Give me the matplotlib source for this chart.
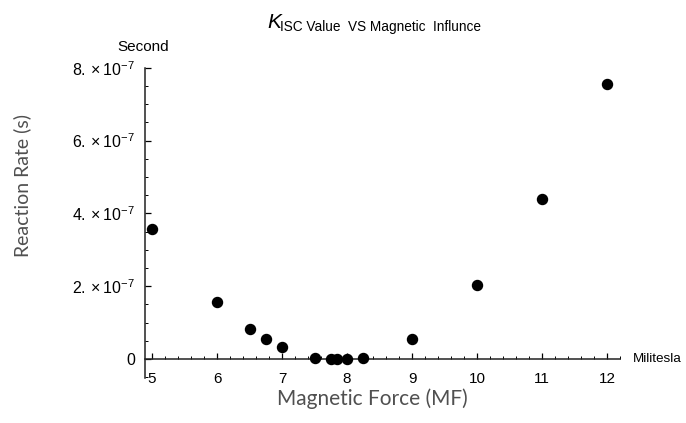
import matplotlib
matplotlib.use("Agg")
import matplotlib.pyplot as plt
from matplotlib.ticker import MultipleLocator, FuncFormatter

plt.rcParams['font.family'] = ['Liberation Sans', 'DejaVu Sans']
plt.rcParams['mathtext.fontset'] = 'custom'
plt.rcParams['mathtext.rm'] = 'Liberation Sans'
plt.rcParams['mathtext.it'] = 'Liberation Sans:italic'

# Data
field_mT = [5, 6, 6.5, 6.75, 7, 7.5, 7.75, 7.85, 8, 8.25, 9, 10, 11, 12]
rate_e7 = [3.56, 1.57, 0.83, 0.55, 0.33, 0.03, 0.0, 0.0, 0.0, 0.03, 0.55, 2.04, 4.39, 7.56]
rate = [v * 1e-7 for v in rate_e7]
x_ticks = [5, 6, 7, 8, 9, 10, 11, 12]
y_ticks = [0, 2e-7, 4e-7, 6e-7, 8e-7]

W, H = 686, 423
fig = plt.figure(figsize=(W / 100, H / 100), dpi=100)
left, right, top, bottom = 145, 620, 67.7, 378
ax = fig.add_axes([left / W, 1 - bottom / H, (right - left) / W, (bottom - top) / H])

ax.scatter(field_mT, rate, s=52, color='black', zorder=3, clip_on=False)

ax.set_xlim(4.892, 12.2)
ax.set_ylim(-0.52e-7, 8e-7)

for s in ['top', 'right']:
    ax.spines[s].set_visible(False)
ax.spines['bottom'].set_position(('data', 0))
for s in ['left', 'bottom']:
    ax.spines[s].set_linewidth(1.1)
    ax.spines[s].set_color('#222222')

ax.set_xticks(x_ticks)
ax.set_yticks(y_ticks)
ax.xaxis.set_minor_locator(MultipleLocator(0.2))
ax.yaxis.set_minor_locator(MultipleLocator(0.5e-7))


def yfmt(v, pos):
    if abs(v) < 1e-12:
        return '0'
    m = v / 1e-7
    return r'$\mathregular{%d.\times10^{-7}}$' % round(m)


ax.yaxis.set_major_formatter(FuncFormatter(yfmt))
ax.tick_params(axis='x', which='major', direction='in', length=4, width=0.9, pad=9,
               labelsize=11)
ax.tick_params(axis='x', which='minor', direction='in', length=2.2, width=0.7)
ax.tick_params(axis='y', which='major', direction='in', length=4, width=0.9, pad=7,
               labelsize=11.5)
ax.tick_params(axis='y', which='minor', direction='in', length=2.2, width=0.7)

# axis unit labels
fig.text(633 / W, 1 - 359 / H, 'Militesla', fontsize=9.7, ha='left', va='center')
fig.text(143 / W, 1 - 47 / H, 'Second', fontsize=11, ha='center', va='center')

# title
fig.text(267 / W, 1 - 22 / H, 'K', fontsize=15, style='italic', ha='left', va='center')
fig.text(280 / W, 1 - 27 / H, 'ISC Value  VS Magnetic  Influnce', fontsize=9.8,
         ha='left', va='center')

# axis titles
fig.text(372 / W, 1 - 399 / H, 'Magnetic Force (MF)', fontsize=15, family=['Lato', 'DejaVu Sans'],
         color='#505050', ha='center', va='center')
fig.text(22 / W, 1 - 185 / H, 'Reaction Rate (s)', fontsize=14, family=['Lato', 'DejaVu Sans'],
         color='#505050', ha='center', va='center', rotation=90)

fig.savefig('out.png', dpi=100)
